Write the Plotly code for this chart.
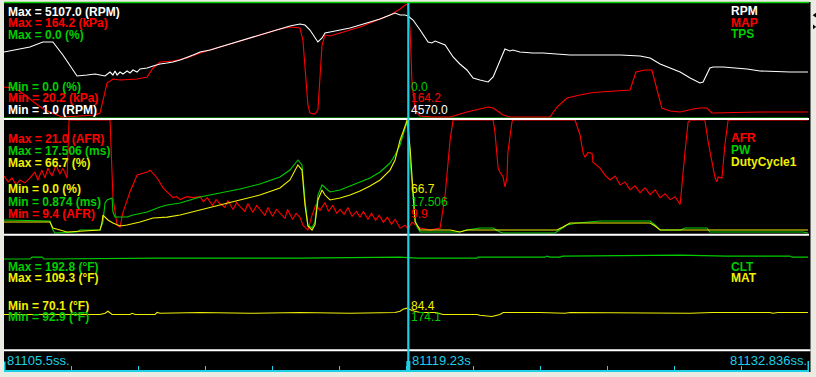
import plotly.graph_objects as go

W, H = 816, 377

# ---------------- data ----------------
T_START, T_END = 81105.5, 81132.836
CURSOR_T = 81119.23
TICK_T = [81107.78, 81110.06, 81112.33, 81114.61, 81116.89, 81119.17,
          81121.45, 81123.73, 81126.00, 81128.28, 81130.56]
TIME_LABELS = ["81105.5ss.", "81119.23s", "81132.836ss."]

# (time s, value)
RPM = [(81105.50, 2957), (81105.87, 3047), (81106.38, 3181), (81106.82, 3405), (81107.16, 3405),
       (81107.50, 2823), (81107.81, 2240), (81107.98, 1882), (81108.32, 1927), (81108.59, 1972),
       (81108.76, 1927), (81108.93, 1882), (81109.10, 2061), (81109.20, 1927), (81109.27, 2106),
       (81109.34, 1927), (81109.44, 2061), (81109.54, 1972), (81109.68, 2106), (81109.78, 2017),
       (81109.88, 2151), (81110.02, 2061), (81110.12, 2196), (81110.36, 2240), (81110.56, 2330),
       (81110.80, 2420), (81111.04, 2464), (81111.24, 2509), (81111.48, 2599), (81111.71, 2733),
       (81111.92, 2823), (81112.16, 2957), (81112.50, 3047), (81112.83, 3181), (81113.17, 3315),
       (81113.51, 3450), (81113.85, 3584), (81114.19, 3718), (81114.53, 3853), (81114.87, 3987),
       (81115.21, 4122), (81115.55, 4211), (81115.72, 4166), (81115.89, 3942), (81116.06, 3584),
       (81116.16, 3405), (81116.30, 3584), (81116.40, 3808), (81116.57, 3853), (81116.91, 3942),
       (81117.25, 4032), (81117.59, 4166), (81117.93, 4301), (81118.27, 4435), (81118.61, 4614),
       (81118.78, 4704), (81118.95, 4614), (81119.12, 4614), (81119.22, 4570), (81119.39, 4390),
       (81119.63, 3942), (81119.90, 3405), (81120.03, 3360), (81120.14, 3450), (81120.31, 3360),
       (81120.48, 3271), (81120.75, 2733), (81120.98, 2420), (81121.22, 2151), (81121.43, 1793),
       (81121.66, 1703), (81121.94, 1613), (81122.11, 1837), (81122.34, 2599), (81122.51, 3091),
       (81122.68, 3002), (81122.78, 3047), (81123.02, 2957), (81123.46, 2912), (81123.80, 2912),
       (81124.21, 2867), (81124.72, 2823), (81125.23, 2823), (81125.74, 2823), (81126.42, 2823),
       (81127.10, 2778), (81127.44, 2688), (81127.78, 2420), (81128.12, 2240), (81128.46, 2061),
       (81128.80, 1793), (81129.13, 1569), (81129.24, 1613), (81129.47, 2240), (81129.58, 2285),
       (81129.92, 2285), (81130.73, 2196), (81131.17, 2106), (81132.19, 2061), (81132.80, 2061)]

MAP = [(81105.50, 59.4), (81105.87, 58.1), (81106.21, 49.3), (81106.55, 39.1), (81106.89, 30.3),
       (81107.16, 26.5), (81107.47, 21.5), (81108.08, 22.7), (81108.59, 24.0), (81108.76, 26.5),
       (81108.86, 43.0), (81109.00, 64.4), (81109.20, 69.5), (81109.44, 68.2), (81110.02, 69.5),
       (81110.36, 72.0), (81110.56, 83.4), (81110.80, 90.9), (81111.24, 92.2), (81111.71, 96.0),
       (81112.16, 102.3), (81112.50, 106.1), (81112.83, 109.9), (81113.17, 113.7), (81113.51, 117.5),
       (81113.85, 121.3), (81114.19, 125.0), (81114.53, 128.8), (81114.87, 132.6), (81115.21, 135.2),
       (81115.55, 133.9), (81115.65, 118.7), (81115.72, 80.8), (81115.82, 36.6), (81115.89, 26.5),
       (81116.06, 25.2), (81116.16, 30.3), (81116.23, 68.2), (81116.30, 112.4), (81116.40, 125.0),
       (81116.57, 123.8), (81116.91, 127.6), (81117.25, 131.4), (81117.59, 135.2), (81117.93, 140.2),
       (81118.27, 145.3), (81118.61, 150.3), (81118.78, 154.1), (81118.95, 157.9), (81119.12, 162.9),
       (81119.22, 164.2), (81119.29, 131.4), (81119.35, 68.2), (81119.46, 30.3), (81119.63, 22.7),
       (81120.03, 21.5), (81120.65, 21.5), (81121.22, 27.8), (81121.66, 31.6), (81121.94, 34.1),
       (81122.11, 32.8), (81122.45, 24.0), (81122.68, 21.5), (81124.04, 21.5), (81124.28, 34.1),
       (81124.62, 45.5), (81125.06, 49.3), (81125.40, 51.8), (81125.74, 53.0), (81126.42, 54.3),
       (81126.76, 55.6), (81126.96, 78.3), (81127.27, 80.8), (81127.50, 80.8), (81127.71, 49.3),
       (81127.84, 32.8), (81128.12, 29.0), (81128.46, 27.8), (81128.90, 31.6), (81129.13, 32.8),
       (81129.37, 32.8), (81129.54, 26.5), (81131.17, 27.8), (81132.80, 27.8)]

TPS = [(81105.50, 0.0), (81132.80, 0.0)]

AFR = [(81105.50, 15.3), (81105.64, 14.7), (81105.77, 15.1), (81105.91, 14.4), (81106.04, 14.9),
       (81106.21, 14.6), (81106.38, 15.1), (81106.55, 15.7), (81106.65, 14.9), (81106.79, 15.9),
       (81106.89, 15.1), (81106.99, 16.1), (81107.13, 15.3), (81107.27, 16.4), (81107.40, 15.5),
       (81107.50, 16.1), (81107.64, 15.1), (81107.71, 21.0), (81109.10, 21.0), (81109.20, 13.1),
       (81109.34, 10.3), (81109.44, 10.1), (81109.54, 11.6), (81109.78, 13.7), (81110.02, 15.4),
       (81110.22, 15.6), (81110.36, 15.7), (81110.46, 15.9), (81110.56, 15.6), (81110.70, 15.1),
       (81110.90, 14.1), (81111.14, 13.4), (81111.24, 13.1), (81111.37, 13.2), (81111.48, 12.9),
       (81111.71, 13.2), (81111.92, 13.1), (81112.16, 13.2), (81112.27, 12.7), (81112.40, 13.1),
       (81112.58, 12.3), (81112.70, 12.9), (81112.83, 12.5), (81113.00, 12.1), (81113.10, 12.8),
       (81113.28, 11.9), (81113.40, 12.6), (81113.51, 12.2), (81113.68, 11.7), (81113.78, 12.5),
       (81113.95, 11.6), (81114.08, 12.3), (81114.19, 11.9), (81114.36, 11.3), (81114.46, 12.1),
       (81114.62, 11.2), (81114.75, 11.9), (81114.87, 11.5), (81115.04, 11.0), (81115.13, 11.9),
       (81115.30, 10.9), (81115.42, 11.5), (81115.55, 11.1), (81115.65, 10.3), (81115.82, 9.8),
       (81115.96, 11.3), (81116.09, 12.4), (81116.23, 11.8), (81116.40, 12.6), (81116.52, 11.7),
       (81116.66, 12.3), (81116.80, 11.5), (81116.91, 11.9), (81117.05, 11.4), (81117.18, 12.1),
       (81117.32, 11.2), (81117.47, 11.7), (81117.59, 11.1), (81117.70, 11.7), (81117.86, 10.9),
       (81117.98, 11.5), (81118.12, 10.8), (81118.24, 11.3), (81118.38, 10.6), (81118.52, 11.1),
       (81118.66, 10.4), (81118.78, 10.9), (81118.95, 10.0), (81119.12, 10.3), (81119.22, 9.9),
       (81119.35, 10.6), (81119.63, 10.0), (81119.97, 9.8), (81120.31, 10.0), (81120.48, 13.4),
       (81120.65, 19.0), (81120.75, 21.0), (81122.11, 21.0), (81122.17, 19.8), (81122.28, 16.1),
       (81122.34, 15.7), (81122.45, 15.2), (81122.51, 14.2), (81122.58, 15.1), (81122.61, 17.7),
       (81122.75, 20.8), (81122.78, 21.0), (81124.89, 21.0), (81125.06, 19.5), (81125.16, 17.7),
       (81125.23, 17.2), (81125.33, 17.7), (81125.47, 17.6), (81125.50, 16.7), (81125.64, 16.4),
       (81125.74, 16.1), (81125.91, 15.4), (81126.08, 14.9), (81126.25, 15.3), (81126.42, 14.4),
       (81126.59, 14.7), (81126.76, 13.9), (81126.93, 14.3), (81127.10, 13.6), (81127.27, 14.1),
       (81127.44, 13.4), (81127.61, 13.9), (81127.78, 13.1), (81127.95, 13.5), (81128.12, 12.9),
       (81128.29, 13.2), (81128.46, 12.4), (81128.63, 17.9), (81128.73, 20.8), (81128.80, 21.0),
       (81129.30, 21.0), (81129.41, 18.8), (81129.54, 16.7), (81129.64, 15.2), (81129.71, 14.7),
       (81129.75, 15.2), (81129.88, 15.1), (81129.92, 16.4), (81129.98, 18.5), (81130.09, 21.0),
       (81132.80, 21.0)]

PW = [(81105.50, 2.92), (81107.06, 2.77), (81107.16, 1.46), (81107.23, 1.02), (81107.98, 1.17),
      (81108.08, 1.46), (81108.76, 1.46), (81108.86, 2.62), (81108.93, 5.40), (81109.00, 5.84),
      (81109.17, 6.13), (81109.20, 4.08), (81109.27, 3.35), (81109.68, 3.35), (81109.88, 3.65),
      (81110.36, 4.08), (81110.80, 4.81), (81111.04, 5.11), (81111.48, 5.40), (81111.82, 5.84),
      (81112.16, 6.27), (81112.83, 6.86), (81113.51, 7.44), (81114.19, 8.17), (81114.87, 9.19),
      (81115.21, 10.21), (81115.48, 11.67), (81115.62, 10.94), (81115.72, 5.84), (81115.82, 2.19),
      (81115.96, 1.75), (81116.06, 2.62), (81116.16, 6.56), (81116.30, 8.02), (81116.40, 7.59),
      (81116.57, 7.00), (81116.91, 7.29), (81117.25, 7.88), (81117.59, 8.46), (81117.93, 9.04),
      (81118.27, 9.92), (81118.61, 11.23), (81118.78, 12.40), (81118.95, 13.86), (81119.12, 16.34),
      (81119.22, 17.506), (81119.29, 11.67), (81119.39, 5.84), (81119.46, 2.92), (81119.53, 1.90),
      (81119.63, 1.17), (81120.98, 1.17), (81121.22, 1.46), (81121.66, 1.75), (81122.11, 1.75),
      (81122.34, 1.17), (81122.45, 1.02), (81124.21, 1.02), (81124.38, 1.46), (81124.62, 2.19),
      (81124.96, 2.48), (81125.74, 2.77), (81127.44, 2.77), (81127.61, 2.19), (81127.78, 1.46),
      (81128.46, 1.46), (81128.63, 1.75), (81129.37, 1.75), (81129.47, 1.17), (81132.63, 1.17),
      (81132.80, 1.02)]

DUTY = [(81105.50, 7.0), (81107.06, 7.0), (81107.16, 3.5), (81107.64, 1.2), (81108.76, 2.3),
        (81108.83, 7.0), (81108.86, 11.1), (81109.03, 8.2), (81109.20, 6.4), (81109.34, 5.3),
        (81109.44, 4.7), (81109.68, 5.3), (81110.12, 7.0), (81110.56, 9.4), (81111.04, 9.9),
        (81111.48, 11.1), (81111.92, 12.9), (81112.16, 14.0), (81112.83, 17.0), (81113.51, 19.9),
        (81114.19, 22.8), (81114.87, 26.9), (81115.21, 31.6), (81115.48, 40.4), (81115.62, 37.4),
        (81115.72, 17.0), (81115.82, 4.7), (81115.96, 2.3), (81116.06, 5.3), (81116.16, 19.9),
        (81116.30, 25.7), (81116.40, 22.8), (81116.57, 19.9), (81116.91, 21.1), (81117.25, 22.8),
        (81117.59, 25.2), (81117.93, 28.1), (81118.27, 31.6), (81118.61, 37.4), (81118.78, 43.3),
        (81118.95, 55.0), (81119.05, 59.7), (81119.19, 66.7), (81119.29, 50.3), (81119.35, 34.5),
        (81119.46, 7.0), (81119.53, 5.3), (81119.63, 2.3), (81120.65, 2.3), (81120.98, 1.2),
        (81121.22, 2.3), (81124.28, 2.3), (81124.48, 4.1), (81124.72, 6.4), (81127.44, 6.4),
        (81127.61, 4.7), (81127.78, 2.3), (81132.80, 2.3)]

CLT = [(81105.50, 172.5), (81106.38, 172.5), (81106.45, 174.2), (81106.79, 174.2), (81106.86, 172.5),
       (81110.80, 173.3), (81115.55, 173.3), (81118.95, 174.2), (81119.53, 173.3), (81121.56, 173.3),
       (81121.60, 174.2), (81123.87, 174.2), (81123.94, 175.1), (81124.04, 174.2), (81124.38, 174.2),
       (81124.48, 175.1), (81128.46, 176.0), (81130.05, 175.1), (81132.19, 175.1), (81132.26, 174.2),
       (81132.80, 174.2)]

MAT = [(81105.50, 82.2), (81108.76, 82.2), (81108.93, 82.6), (81109.03, 83.3), (81109.17, 82.2),
       (81109.78, 82.2), (81109.85, 82.6), (81109.95, 82.2), (81110.63, 82.2), (81110.70, 82.9),
       (81110.80, 82.6), (81112.16, 82.9), (81113.85, 82.6), (81115.55, 82.9), (81117.25, 82.6),
       (81118.78, 82.9), (81118.95, 83.3), (81119.05, 84.0), (81119.19, 84.4), (81119.35, 83.6),
       (81119.63, 82.9), (81120.14, 82.9), (81120.41, 82.2), (81121.56, 82.2), (81121.66, 81.9),
       (81122.07, 81.5), (81122.34, 82.2), (81122.45, 82.9), (81123.70, 82.9), (81124.55, 82.6),
       (81124.72, 82.9), (81128.80, 82.6), (81129.54, 82.9), (81131.51, 82.9), (81131.61, 82.6),
       (81131.78, 82.9), (81132.80, 82.9)]

# log min / max and cursor readouts
RPM_MIN, RPM_MAX, RPM_CUR = 1.0, 5107.0, 4570.0
MAP_MIN, MAP_MAX, MAP_CUR = 20.2, 164.2, 164.2
TPS_MIN, TPS_MAX, TPS_CUR = 0.0, 0.0, 0.0
AFR_MIN, AFR_MAX, AFR_CUR = 9.4, 21.0, 9.9
PW_MIN, PW_MAX, PW_CUR = 0.874, 17.506, 17.506
DUTY_MIN, DUTY_MAX, DUTY_CUR = 0.0, 66.7, 66.7
CLT_MIN, CLT_MAX, CLT_CUR = 92.9, 192.8, 174.1
MAT_MIN, MAT_MAX, MAT_CUR = 70.1, 109.3, 84.4

# ---------------- style ----------------
WHITE, RED, GREEN, YELLOW = "#FFFFFF", "#FF0000", "#00CC00", "#F0F000"
CYAN = "#1CCFE4"
GRAY = "#EBEAE3"
FONT = "Liberation Sans, Arial, sans-serif"


def px(x):
    return x / W


def py(y):
    return 1 - y / H


P1 = [py(118), py(4)]
P2 = [py(234), py(120)]
P3 = [py(349.5), py(236)]

# name, data, min, max, cursor, unit, decimals, colour, axis index, panel domain
SERIES = [
    ("TPS", TPS, TPS_MIN, TPS_MAX, TPS_CUR, "%", 1, GREEN, 1, P1),
    ("MAP", MAP, MAP_MIN, MAP_MAX, MAP_CUR, "kPa", 1, RED, 2, P1),
    ("RPM", RPM, RPM_MIN, RPM_MAX, RPM_CUR, "RPM", 1, WHITE, 3, P1),
    ("AFR", AFR, AFR_MIN, AFR_MAX, AFR_CUR, "AFR", 1, RED, 4, P2),
    ("PW", PW, PW_MIN, PW_MAX, PW_CUR, "ms", 3, GREEN, 5, P2),
    ("DutyCycle1", DUTY, DUTY_MIN, DUTY_MAX, DUTY_CUR, "%", 1, YELLOW, 6, P2),
    ("CLT", CLT, CLT_MIN, CLT_MAX, CLT_CUR, "°F", 1, GREEN, 7, P3),
    ("MAT", MAT, MAT_MIN, MAT_MAX, MAT_CUR, "°F", 1, YELLOW, 8, P3),
]
BASE = {1: "y", 2: "y", 3: "y", 4: "y4", 5: "y4", 6: "y4", 7: "y7", 8: "y7"}

fig = go.Figure()
layout_axes = {}
for name, data, lo, hi, cur, unit, dec, col, ai, dom in SERIES:
    t = [p[0] for p in data]
    v = [p[1] for p in data]
    yname = "y" if ai == 1 else f"y{ai}"
    fig.add_trace(go.Scatter(x=t, y=v, mode="lines", xaxis="x", yaxis=yname,
                             line=dict(color=col, width=1.1), hoverinfo="skip",
                             showlegend=False, name=name))
    rng = [lo, hi] if hi > lo else [lo, lo + 1]
    ax = dict(domain=dom, range=rng, visible=False, fixedrange=True)
    if BASE[ai] != yname:
        ax["overlaying"] = BASE[ai]
    layout_axes["yaxis" if ai == 1 else f"yaxis{ai}"] = ax

S = {s[0]: s for s in SERIES}


def fmt(val, dec):
    return f"{val:.{dec}f}"


ann = []


def label(text, x, y, color, size=12, anchor="left"):
    ann.append(dict(text=text, x=px(x), y=py(y), xref="paper", yref="paper",
                    xanchor=anchor, yanchor="middle", showarrow=False,
                    font=dict(family=FONT, size=size, color=color)))


# left min/max labels
LEFT = [("Max", "RPM", 11.5), ("Max", "MAP", 23), ("Max", "TPS", 34.5),
        ("Min", "TPS", 86.7), ("Min", "MAP", 98.3), ("Min", "RPM", 109.5),
        ("Max", "AFR", 139), ("Max", "PW", 150.7), ("Max", "DutyCycle1", 162.7),
        ("Min", "DutyCycle1", 188.5), ("Min", "PW", 202.3), ("Min", "AFR", 214),
        ("Max", "CLT", 267.3), ("Max", "MAT", 278.3),
        ("Min", "MAT", 305.7), ("Min", "CLT", 317.3)]
for kind, nm, y in LEFT:
    name, data, lo, hi, cur, unit, dec, col, ai, dom = S[nm]
    val = hi if kind == "Max" else lo
    label(f"<b>{kind} = {fmt(val, dec)} ({unit})</b>", 6, y, col)

# cursor readouts
CUR = [("TPS", 86.5), ("MAP", 98), ("RPM", 109.5),
       ("DutyCycle1", 189), ("PW", 202), ("AFR", 213.5),
       ("MAT", 305.7), ("CLT", 317.3)]
for nm, y in CUR:
    name, data, lo, hi, cur, unit, dec, col, ai, dom = S[nm]
    label(fmt(cur, dec), 409, y, col)

# channel names
NAMES = [("RPM", 11), ("MAP", 22.5), ("TPS", 34),
         ("AFR", 138.3), ("PW", 149.5), ("DutyCycle1", 162),
         ("CLT", 266.7), ("MAT", 278.3)]
for nm, y in NAMES:
    label(f"<b>{nm}</b>", 728.5, y, S[nm][7])

# time labels
label(TIME_LABELS[0], 5, 360, CYAN, size=13)
label(TIME_LABELS[1], 410, 360, CYAN, size=13)
label(TIME_LABELS[2], 809, 360, CYAN, size=13, anchor="right")

shapes = [
    # black canvas
    dict(type="rect", xref="paper", yref="paper", x0=px(4), x1=px(810.5), y0=py(372), y1=py(2),
         fillcolor="black", line=dict(width=0), layer="below"),
    # top green border
    dict(type="line", xref="paper", yref="paper", x0=px(4), x1=px(809), y0=py(2.5), y1=py(2.5),
         line=dict(color=GREEN, width=1.5)),
    # panel separators
    dict(type="line", xref="paper", yref="paper", x0=px(4), x1=px(809), y0=py(119), y1=py(119),
         line=dict(color="white", width=2)),
    dict(type="line", xref="paper", yref="paper", x0=px(4), x1=px(809), y0=py(234.7), y1=py(234.7),
         line=dict(color="white", width=2)),
    dict(type="line", xref="paper", yref="paper", x0=px(4), x1=px(810.5), y0=py(350.3), y1=py(350.3),
         line=dict(color="white", width=2)),
    # cursor
    dict(type="line", xref="x", yref="paper", x0=CURSOR_T, x1=CURSOR_T, y0=py(371), y1=py(3),
         line=dict(color=CYAN, width=2.2)),
    dict(type="line", xref="x", yref="paper", x0=CURSOR_T, x1=CURSOR_T, y0=py(371), y1=py(361),
         line=dict(color=CYAN, width=4)),
    # end markers of time strip
    dict(type="line", xref="x", yref="paper", x0=T_START, x1=T_START, y0=py(371.5), y1=py(361.5),
         line=dict(color=CYAN, width=3)),
    dict(type="line", xref="x", yref="paper", x0=T_END, x1=T_END, y0=py(371.5), y1=py(361),
         line=dict(color=CYAN, width=3)),
    # scroll arrows on the right
    dict(type="path", xref="paper", yref="paper",
         path=f"M {px(816)} {py(12.8)} L {px(812.6)} {py(15.2)} L {px(816)} {py(17.6)} Z",
         fillcolor="black", line=dict(width=0)),
    dict(type="path", xref="paper", yref="paper",
         path=f"M {px(813)} {py(24.4)} L {px(816.2)} {py(26.8)} L {px(813)} {py(29.2)} Z",
         fillcolor="black", line=dict(width=0)),
]

fig.update_layout(
    width=W, height=H, margin=dict(l=0, r=0, t=0, b=0, pad=0),
    paper_bgcolor=GRAY, plot_bgcolor="black", showlegend=False,
    xaxis=dict(domain=[px(4), px(809)], range=[T_START, T_END], anchor="free",
               position=py(370.6), showgrid=False, zeroline=False,
               showline=True, linecolor=CYAN, linewidth=2,
               ticks="inside", ticklen=4, tickwidth=1, tickcolor=CYAN,
               tickvals=TICK_T, showticklabels=False, fixedrange=True),
    annotations=ann, shapes=shapes,
    **layout_axes,
)

fig.write_html("out.html")
